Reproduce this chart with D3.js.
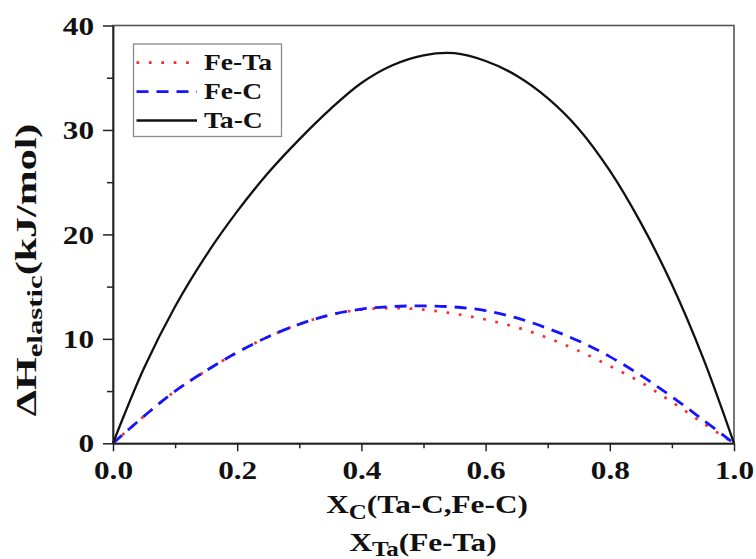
<!DOCTYPE html>
<html>
<head>
<meta charset="utf-8">
<script src="https://cdn.jsdelivr.net/npm/d3@7"></script>
<style>
  html, body { margin: 0; padding: 0; background: #fff; }
  svg { display: block; }
  text { font-family: "Liberation Serif", "Times New Roman", serif; font-weight: bold; fill: #111; }
</style>
</head>
<body>
<svg id="chart" width="756" height="559"></svg>
<script>
// Composition (mole fraction) at which each enthalpy value is given
const composition = [0, 0.05, 0.10, 0.15, 0.20, 0.25, 0.30, 0.35, 0.40, 0.45, 0.50,
                     0.55, 0.60, 0.65, 0.70, 0.75, 0.80, 0.85, 0.90, 0.95, 1.00];

// Elastic enthalpy, kJ/mol
const feTa = [0, 2.6, 5.0, 6.95, 8.7, 10.2, 11.4, 12.3, 12.8, 12.95, 12.8,
              12.4, 11.85, 11.1, 10.1, 8.85, 7.4, 5.85, 3.95, 1.95, 0];
const feC  = [0, 2.6, 5.0, 6.95, 8.7, 10.2, 11.4, 12.3, 12.85, 13.1, 13.15,
              13.05, 12.7, 12.0, 11.0, 9.8, 8.3, 6.5, 4.45, 2.25, 0];
const taC  = [0, 7.2, 13.1, 18.0, 22.2, 25.9, 29.1, 32.0, 34.5, 36.2, 37.15,
              37.35, 36.6, 35.2, 33.05, 30.1, 26.1, 21.1, 15.2, 8.2, 0];

const seriesNames = ["Fe-Ta", "Fe-C", "Ta-C"];
const xTicks = [0, 0.2, 0.4, 0.6, 0.8, 1.0];
const xMinorTicks = [0.1, 0.3, 0.5, 0.7, 0.9];
const yTicks = [0, 10, 20, 30, 40];
const yMinorTicks = [5, 15, 25, 35];

const styles = {
  "Fe-Ta": { color: "#ff2a2a", width: 2.7, dash: "2.7,9.7" },
  "Fe-C":  { color: "#1414ff", width: 2.8, dash: "12,8" },
  "Ta-C":  { color: "#111111", width: 2.3, dash: null }
};

const svg = d3.select("#chart");
const plot = { left: 113, right: 734, top: 25.5, bottom: 443.3 };

const x = d3.scaleLinear().domain([0, 1]).range([plot.left, plot.right]);
const y = d3.scaleLinear().domain([0, 40]).range([plot.bottom, plot.top]);

const stretchX = 1.25;

// frame (top and right edges)
svg.append("rect")
  .attr("x", plot.left).attr("y", plot.top)
  .attr("width", plot.right - plot.left).attr("height", plot.bottom - plot.top)
  .attr("fill", "none").attr("stroke", "#555").attr("stroke-width", 1.6);

// curves
const table = seriesNames.map((name, i) => ({
  name,
  values: composition.map((c, j) => ({ c, v: [feTa, feC, taC][i][j] }))
}));

const line = d3.line()
  .x(d => x(d.c))
  .y(d => y(d.v))
  .curve(d3.curveCatmullRom.alpha(0.5));

svg.append("g").selectAll("path")
  .data(table)
  .join("path")
  .attr("d", d => line(d.values))
  .attr("fill", "none")
  .attr("stroke", d => styles[d.name].color)
  .attr("stroke-width", d => styles[d.name].width)
  .attr("stroke-dasharray", d => styles[d.name].dash)
  .attr("stroke-linejoin", "round");

// x axis
const gx = svg.append("g").attr("transform", `translate(0,${plot.bottom})`);
gx.call(d3.axisBottom(x).tickValues(xTicks).tickFormat(d3.format(".1f")).tickSize(8).tickSizeOuter(0));
svg.append("g").attr("transform", `translate(0,${plot.bottom})`)
  .call(d3.axisBottom(x).tickValues(xMinorTicks).tickFormat("").tickSize(5).tickSizeOuter(0))
  .call(g => g.select(".domain").remove());

// y axis
const gy = svg.append("g").attr("transform", `translate(${plot.left},0)`);
gy.call(d3.axisLeft(y).tickValues(yTicks).tickFormat(d3.format("d")).tickSize(10).tickSizeOuter(0));
svg.append("g").attr("transform", `translate(${plot.left},0)`)
  .call(d3.axisLeft(y).tickValues(yMinorTicks).tickFormat("").tickSize(6).tickSizeOuter(0))
  .call(g => g.select(".domain").remove());

svg.selectAll(".domain").attr("stroke", "#222").attr("stroke-width", 1.8);
svg.selectAll(".tick line").attr("stroke", "#222").attr("stroke-width", 1.5);

gx.selectAll(".tick text")
  .attr("x", 0).attr("y", 0).attr("dy", null)
  .attr("transform", `translate(0,${478.5 - plot.bottom}) scale(${stretchX},1)`)
  .attr("font-size", 25).attr("fill", "#111");

gy.selectAll(".tick text")
  .attr("x", 0).attr("y", 0).attr("dy", null)
  .attr("text-anchor", "end")
  .attr("transform", `translate(-19,8.6) scale(${stretchX},1)`)
  .attr("font-size", 25).attr("fill", "#111");

// axis titles
function stretched(parent, px, py, k) {
  return parent.append("text")
    .attr("transform", `translate(${px},${py}) scale(${k},1)`)
    .attr("text-anchor", "middle");
}

const t1 = stretched(svg, 427, 513, stretchX).attr("font-size", 25);
t1.append("tspan").text("X");
t1.append("tspan").attr("font-size", 20).attr("dy", 6).text("C");
t1.append("tspan").attr("dy", -6).text("(Ta-C,Fe-C)");

const t2 = stretched(svg, 423, 551, stretchX).attr("font-size", 25);
t2.append("tspan").text("X");
t2.append("tspan").attr("font-size", 20).attr("dy", 5).text("Ta");
t2.append("tspan").attr("dy", -5).text("(Fe-Ta)");

const yt = svg.append("text")
  .attr("transform", "translate(36,270) scale(1,1.4) rotate(-90)")
  .attr("text-anchor", "middle")
  .attr("font-size", 30);
yt.append("tspan").text("ΔH");
yt.append("tspan").attr("font-size", 22).attr("dy", 6).text("elastic");
yt.append("tspan").attr("dy", -6).text("(kJ/mol)");

// legend
const legend = svg.append("g");
legend.append("rect")
  .attr("x", 133.5).attr("y", 44).attr("width", 148).attr("height", 92.5)
  .attr("fill", "#fff").attr("stroke", "#8a8a8a").attr("stroke-width", 1.3);

const rowY = [62.7, 91.7, 120.5];
seriesNames.forEach((name, i) => {
  const s = styles[name];
  legend.append("line")
    .attr("x1", 136.5).attr("x2", 197).attr("y1", rowY[i]).attr("y2", rowY[i])
    .attr("stroke", s.color).attr("stroke-width", s.width)
    .attr("stroke-dasharray", s.dash);
  legend.append("text")
    .attr("transform", `translate(204,${rowY[i] + 7.5}) scale(1.2,1)`)
    .attr("font-size", 23)
    .text(name);
});
</script>
</body>
</html>
